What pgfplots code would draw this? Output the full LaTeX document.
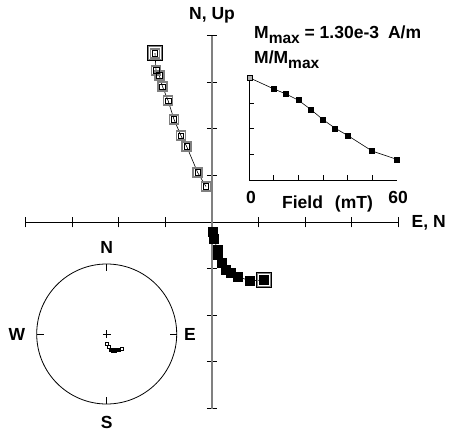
\documentclass[border=0pt]{standalone}
\usepackage{fontspec}
\setmainfont{Liberation Sans}
\usepackage{pgfplots}
\pgfplotsset{compat=1.18}
\newcommand\lab{\fontsize{17.5}{20}\selectfont\bfseries}
\newcommand\sub[1]{\raisebox{-5pt}{\fontsize{15.5}{16}\selectfont\bfseries #1}}
\begin{document}
\begin{tikzpicture}[x=1pt,y=1pt]
\useasboundingbox (0,0) rectangle (452,432);
% ---------- main Zijderveld axis ----------
\begin{axis}[
  at={(25.5pt,23.5pt)}, anchor=south west,
  x=46.625pt, y=46.625pt,
  xmin=-4, xmax=4, ymin=-4, ymax=4,
  enlargelimits=false,
  axis lines=middle,
  axis line style={-},
  x axis line style={black, line width=0.8pt},
  y axis line style={gray, line width=1.6pt},
  xtick={-4,-3,-2,-1,1,2,3,4}, ytick={-4,-3,-2,-1,1,2,3,4},
  xticklabel=\empty, yticklabel=\empty,
  tick align=center, major tick length=10.5pt,
  tick style={black, line width=0.8pt},
  clip=false,
]
% vertical projection (N, Up) - open squares
\addplot[black, line width=0.6pt, mark=square, mark size=4.5pt,
  mark options={draw=gray, line width=1.6pt, fill=white}]
  coordinates {(-1.223,3.62) (-1.20,3.25) (-1.13,3.14) (-1.06,2.90) (-0.94,2.60)
               (-0.815,2.20) (-0.665,1.85) (-0.543,1.62) (-0.307,1.06) (-0.129,0.76)};
\addplot[only marks, mark=square, mark size=2.8pt, mark options={draw=black, line width=0.7pt}]
  coordinates {(-1.223,3.62) (-1.20,3.25) (-1.13,3.14) (-1.06,2.90) (-0.94,2.60)
               (-0.815,2.20) (-0.665,1.85) (-0.543,1.62) (-0.307,1.06) (-0.129,0.76)};
% horizontal projection (E, N) - filled squares
\addplot[black, line width=0.6pt, mark=square*, mark size=4.5pt]
  coordinates {(1.12,-1.245) (0.80,-1.26) (0.56,-1.17) (0.40,-1.10) (0.30,-1.02)
               (0.21,-0.87) (0.135,-0.71) (0.12,-0.60) (0.04,-0.35) (0.015,-0.21)};
% highlight of first step
\addplot[only marks, mark=square, mark size=7.5pt, mark options={draw=black, line width=0.7pt}]
  coordinates {(-1.223,3.62) (1.12,-1.245)};
\addplot[only marks, mark=square, mark size=6.5pt, mark options={draw=gray, line width=0.8pt}]
  coordinates {(-1.223,3.62) (1.12,-1.245)};
\end{axis}
\node[anchor=base, inner sep=0pt] at (212pt,412pt) {\lab N, Up};
\node[anchor=base west, inner sep=0pt] at (411.5pt,205pt) {\lab E, N};
% ---------- inset: demagnetization curve ----------
\begin{axis}[
  at={(249.3pt,252pt)}, anchor=south west,
  x=2.4567pt, y=102.3pt,
  xmin=0, xmax=60, ymin=0, ymax=1,
  enlargelimits=false,
  axis lines=left,
  axis line style={-, black, line width=0.8pt},
  xtick={10,20,30,40,50}, ytick={0.25,0.5,0.75},
  xticklabel=\empty, yticklabel=\empty,
  tick align=inside, major tick length=5pt,
  tick style={black, line width=0.8pt},
  clip=false,
]
\addplot[black, line width=0.6pt, mark=square*, mark size=2.5pt]
  coordinates {(0,1.0) (10,0.89) (15,0.84) (20,0.78) (25,0.69) (30,0.59)
               (35,0.505) (40,0.436) (50,0.283) (60,0.202)};
\addplot[only marks, mark=square*, mark size=2.5pt, mark options={fill=gray!60, draw=black, line width=0.4pt}]
  coordinates {(0,1.0)};
\end{axis}
\node[anchor=base west, inner sep=0pt] at (254pt,393pt) {\lab M\sub{max} = 1.30e-3\hspace{9pt}A/m};
\node[anchor=base west, inner sep=0pt] at (254pt,368pt) {\lab M/M\sub{max}};
\node[anchor=base] at (251pt,229pt) {\lab 0};
\node[anchor=base] at (398pt,229pt) {\lab 60};
\node[anchor=base] at (327.5pt,224pt) {\lab Field\hspace{12pt}(mT)};
% ---------- stereonet ----------
\begin{axis}[
  at={(36.7pt,28pt)}, anchor=south west,
  x=70pt, y=70pt,
  xmin=-1, xmax=1, ymin=-1, ymax=1,
  enlargelimits=false,
  hide axis, clip=false,
]
\draw[black, line width=0.8pt] (axis cs:0,0) circle[radius=70pt];
\draw[black, line width=0.8pt] (axis cs:0,1) -- (axis cs:0,0.9);
\draw[black, line width=0.8pt] (axis cs:0,-1) -- (axis cs:0,-0.9);
\draw[black, line width=0.8pt] (axis cs:1,0) -- (axis cs:0.9,0);
\draw[black, line width=0.8pt] (axis cs:-1,0) -- (axis cs:-0.9,0);
\draw[black, line width=0.7pt] (axis cs:-0.055,0) -- (axis cs:0.055,0);
\draw[black, line width=0.7pt] (axis cs:0,-0.055) -- (axis cs:0,0.055);
\addplot[only marks, mark=square*, mark size=1.6pt, mark options={fill=black, draw=black, line width=0.6pt}]
  coordinates {(0.175,-0.225) (0.15,-0.228) (0.13,-0.23) (0.11,-0.232) (0.095,-0.232)
               (0.08,-0.23) (0.065,-0.225)};
\addplot[only marks, mark=square, mark size=1.5pt, mark options={draw=black, line width=0.6pt, fill=white}]
  coordinates {(0.22,-0.205) (0.025,-0.18) (-0.005,-0.145)};
\end{axis}
\node at (106.7pt,184.7pt) {\lab N};
\node at (106.7pt,10pt) {\lab S};
\node at (17pt,98pt) {\lab W};
\node at (190pt,98pt) {\lab E};
\end{tikzpicture}
\end{document}
